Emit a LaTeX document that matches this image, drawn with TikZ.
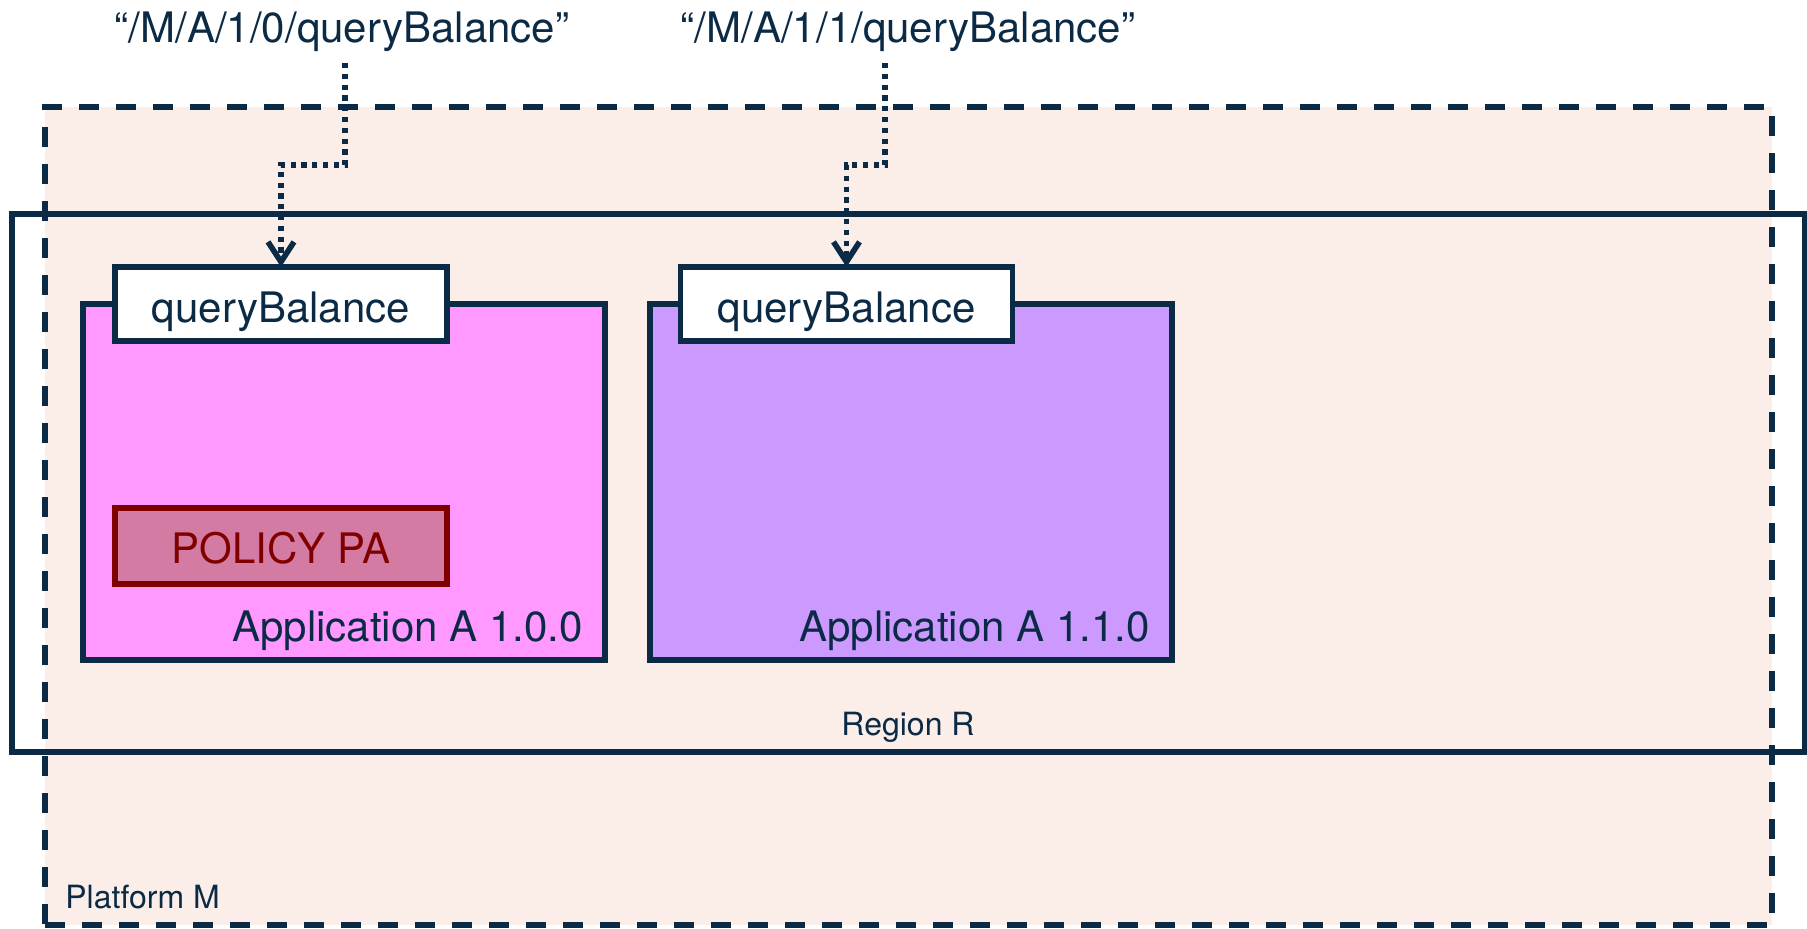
\documentclass[tikz,border=0pt]{standalone}
\usepackage{fontspec}
\setmainfont{TeX Gyre Heros}
\usetikzlibrary{arrows.meta}
\definecolor{navy}{HTML}{0B2A45}
\definecolor{platfill}{HTML}{FBEDE8}
\definecolor{pinkA}{HTML}{FF99FF}
\definecolor{purpA}{HTML}{CC99FF}
\definecolor{polfill}{HTML}{D47BA3}
\definecolor{polline}{HTML}{800000}
\begin{document}
\begin{tikzpicture}[x=0.5pt,y=-0.5pt,
  box/.style={draw=navy, line width=2.8pt, inner sep=0pt, outer sep=0pt},
  big/.style={font=\fontsize{21}{25}\selectfont, text=navy, inner sep=0pt},
  small/.style={font=\fontsize{16}{19}\selectfont, text=navy, inner sep=0pt},
  flow/.style={draw=navy, line width=2.6pt, dash pattern=on 2.6pt off 2.8pt,
    -{Straight Barb[length=10pt,width=13pt,line width=2.8pt]}}]
\useasboundingbox (0,0) rectangle (1807,928);
% platform
\node[box, fill=platfill, dash pattern=on 10pt off 8.5pt,
  minimum width=863.5pt, minimum height=409pt] (platform) at (908.5,516) {};
% region
\node[box, minimum width=896.5pt, minimum height=269pt] (region) at (908.5,483) {};
% applications
\node[box, fill=pinkA, minimum width=261pt, minimum height=178pt] (app1) at (344,482) {};
\node[box, fill=purpA, minimum width=261pt, minimum height=178pt] (app2) at (911,482) {};
% interfaces
\node[box, fill=white, big, minimum width=166pt, minimum height=37pt,
  text height=18pt, text depth=0pt] (qb1) at (281,304) {queryBalance};
\node[box, fill=white, big, minimum width=166pt, minimum height=37pt,
  text height=18pt, text depth=0pt] (qb2) at (846.5,304) {queryBalance};
% policy
\node[box, draw=polline, fill=polfill, big, text=polline, minimum width=166pt,
  minimum height=38pt, text height=17pt, text depth=0pt] (pol) at (281,546) {POLICY PA};
% texts
\node[big, anchor=base east] (t1) at (583,641) {Application A 1.0.0};
\node[big, anchor=base east] (t2) at (1150,641) {Application A 1.1.0};
\node[small, anchor=base] (rl) at (908,735) {Region R};
\node[small, anchor=base west] (pl) at (65,908) {Platform M};
\node[big, anchor=base] (l1) at (342,42) {“/M/A/1/0/queryBalance”};
\node[big, anchor=base] (l2) at (908,42) {“/M/A/1/1/queryBalance”};
% connectors
\coordinate (s1) at (345,63);
\coordinate (s2) at (885,63);
\draw[flow] (s1) -- ++(0,102) -| (qb1.north);
\draw[flow] (s2) -- ++(0,102) -| (qb2.north);
\end{tikzpicture}
\end{document}
